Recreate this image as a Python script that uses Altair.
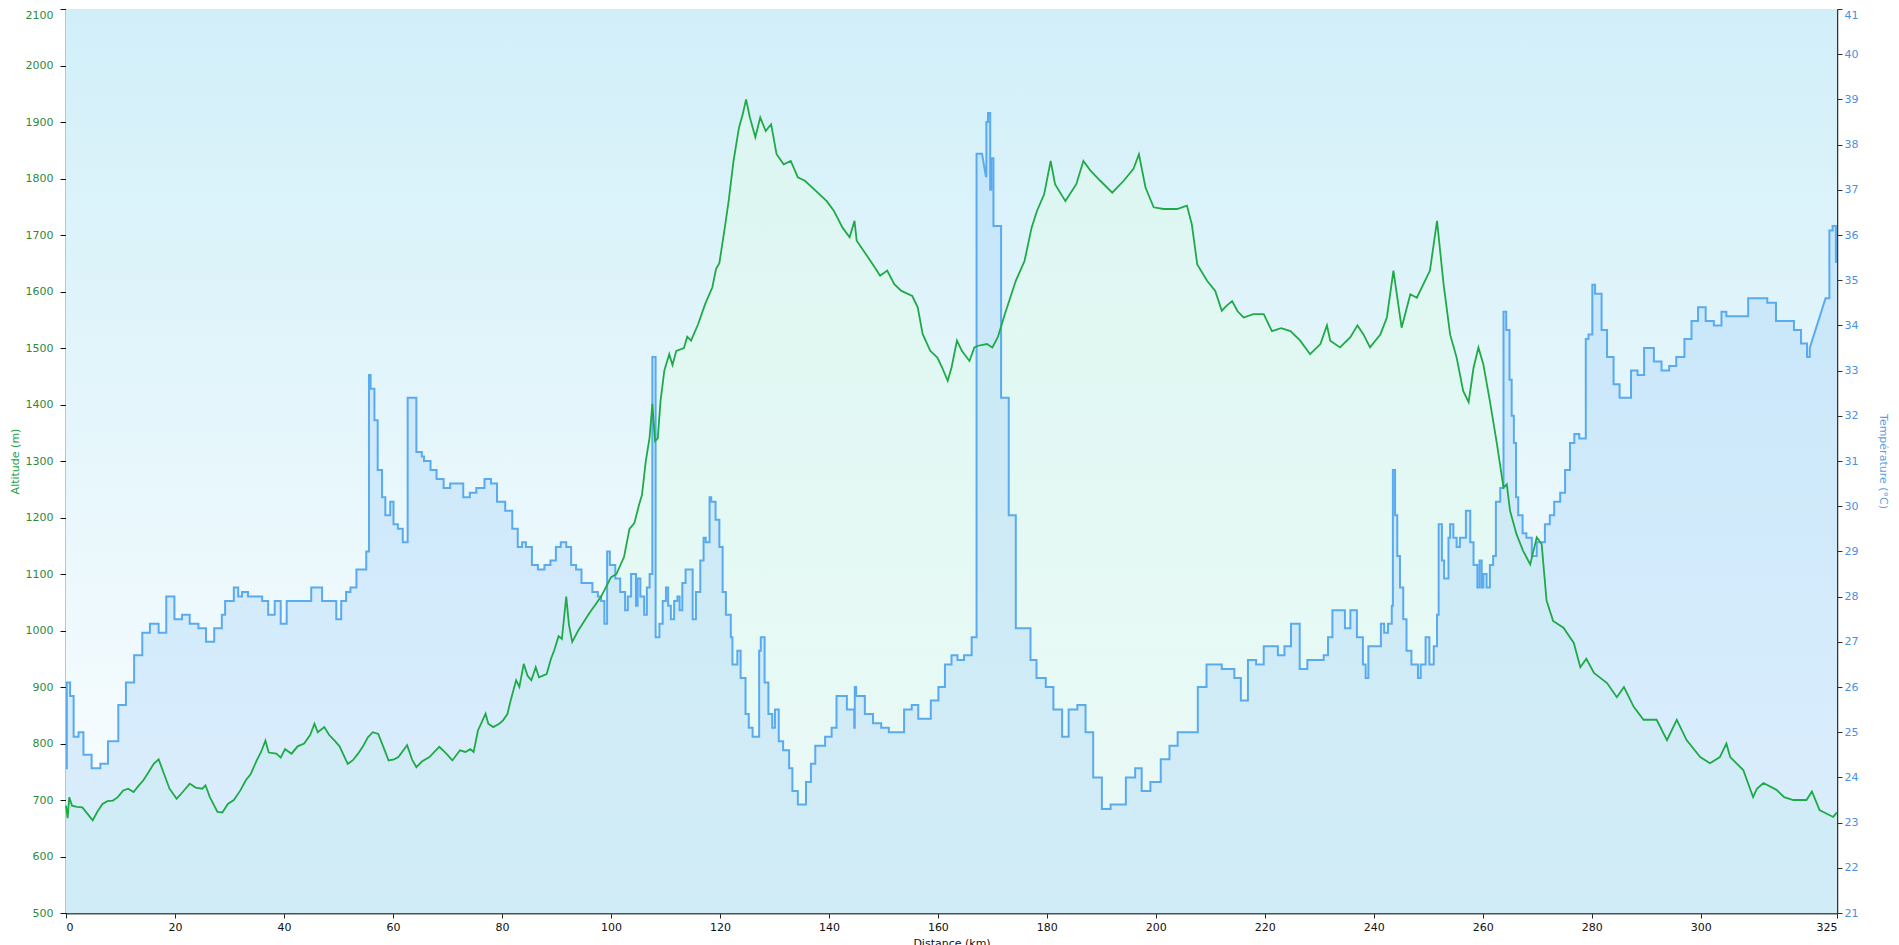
import altair as alt
import pandas as pd

# ---------------- data ----------------
alt_km = [0, 0.3, 0.6, 1.1, 2, 3, 4, 4.9, 5.8, 6.7, 7.6, 8.6, 9.5, 10.5, 11.4, 12.4, 13.3, 14.2,
          15.2, 16.1, 17, 18, 19, 20.3, 21.5, 22.7, 23.8, 25, 25.6, 26.4, 27.2, 27.8, 28.7, 29.7,
          30.8, 32, 33, 33.9, 35, 35.8, 36.6, 37.2, 38.6, 39.4, 40.2, 41.4, 42.5, 43.7, 44.8, 45.6,
          46.2, 47.4, 48.3, 49.3, 50.2, 51.7, 52.6, 53.6, 54.5, 55.4, 56.3, 57.3, 58.4, 59.2, 60.2,
          61, 62.6, 63.5, 64.3, 65.3, 66.7, 67.6, 68.5, 69.8, 70.9, 72.3, 73.3, 74.2, 74.8, 75.6,
          77, 77.5, 78.4, 79.5, 80.2, 81, 81.6, 82.6, 83.2, 84, 84.7, 85.4, 86.2, 86.8, 88.2, 89,
          89.6, 90.4, 91, 91.8, 92.3, 92.9, 94, 94.8, 96, 97.1, 98.2, 99, 100, 101, 102.4, 103.4,
          104.3, 105.2, 105.7, 106.4, 107.1, 107.6, 108.1, 108.6, 109.1, 109.8, 110.7, 111.3, 112,
          113.4, 114, 114.7, 116, 117.3, 118.6, 119.3, 119.9, 120.9, 121.6, 122.5, 123.5, 124.2,
          124.8, 125.5, 126.5, 127.4, 128.4, 129.4, 130.4, 131.7, 133, 134.3, 135.6, 137.6, 139.6,
          140.9, 142.5, 143.8, 144.7, 145.1, 146.8, 148.4, 149.4, 150.7, 152, 153.3, 155.3, 156.3,
          157.2, 158.6, 159.9, 160.8, 161.8, 162.5, 163.5, 164.4, 165.8, 166.7, 167.4, 169, 170,
          171, 172.3, 174.3, 175.9, 177.2, 178.2, 179.5, 180.7, 181.5, 183.4, 185.4, 186.7, 188,
          189.8, 192, 194.1, 195.9, 196.9, 198.1, 199.6, 201.4, 203.9, 205.7, 206.6, 207.6, 209.4,
          210.9, 212.1, 213, 214, 215, 216.1, 217.9, 219.8, 221.3, 223, 224.7, 226.5, 228.3, 230.2,
          231.4, 232, 233.8, 235.7, 237, 238.1, 239.3, 241.2, 242.4, 243.6, 245.1, 246.7, 247.9,
          249.1, 250.3, 251.6, 252.8, 254, 255.2, 256.4, 257.4, 258.3, 259.2, 260.1, 261.3, 262.6,
          263.8, 264.4, 265, 266.2, 267.4, 268.7, 269.9, 270.8, 271.7, 272.9, 274.8, 276.7, 277.9,
          279, 280.4, 282.8, 284.6, 285.9, 287.7, 289.5, 291.9, 293.8, 295.6, 297.4, 299.9, 301.7,
          303.5, 304.7, 305.4, 307.8, 309.6, 310.3, 311.5, 313.9, 315.3, 317, 319.4, 320.4, 321.8,
          324.3, 325]
alt_m = [690, 668, 705, 690, 688, 687, 675, 664, 680, 693, 698, 699, 705, 717, 720, 714, 725, 735,
         750, 764, 772, 746, 720, 702, 715, 729, 722, 720, 726, 705, 690, 679, 678, 693,
         700, 717, 735, 746, 770, 785, 805, 784, 782, 775, 790, 782, 795, 800, 815, 835,
         820, 829, 815, 805, 795, 764, 770, 782, 795, 811, 820, 817, 790, 770, 772,
         776, 797, 772, 758, 768, 776, 785, 794, 782, 770, 788, 785, 790, 785, 823,
         853, 835, 829, 835, 841, 852, 876, 912, 900, 941, 920, 912, 935, 917, 923, 950,
         965, 990, 985, 1060, 1010, 980, 1000, 1012, 1030, 1045, 1060, 1075, 1094, 1100, 1130, 1180,
         1190, 1224, 1240, 1300, 1342, 1401, 1335, 1340, 1406, 1460, 1489, 1470, 1495,
         1500, 1520, 1513, 1542, 1578, 1607, 1640, 1650, 1713, 1760, 1831, 1890, 1914,
         1940, 1908, 1873, 1908, 1884, 1896, 1843, 1825, 1831, 1802, 1796, 1778, 1760,
         1743, 1713, 1696, 1725, 1690, 1666, 1643, 1628, 1637, 1613, 1601, 1592, 1572,
         1525, 1495, 1483, 1465, 1442, 1465, 1513, 1495, 1477, 1501, 1504, 1507, 1501,
         1519, 1560, 1619, 1654, 1713, 1743, 1772, 1831, 1790, 1760, 1790, 1831, 1814,
         1796, 1775, 1796, 1817, 1843, 1784, 1749, 1746, 1746, 1752, 1719, 1648, 1619,
         1601, 1566, 1575, 1583, 1565, 1554, 1560, 1560, 1530, 1535, 1530, 1513, 1489, 1507,
         1540, 1513, 1501, 1519, 1540, 1524, 1501, 1524, 1554, 1637, 1536, 1595, 1589,
         1613, 1637, 1725, 1613, 1524, 1483, 1424, 1404, 1465, 1501, 1471, 1406, 1330,
         1253, 1259, 1212, 1170, 1141, 1117, 1165, 1153, 1053, 1017, 1005, 978, 935,
         950, 925, 907, 882, 900, 865, 842, 842, 806, 842, 806, 776, 765,
         776, 800, 776, 753, 705, 720, 730, 718, 705, 700, 700, 715, 682,
         670, 678]

# temperature: value held from each start distance to the next (ramps join linearly)
temp_km = [0, 0.15, 0.75, 1.4, 2.3, 3.2, 4.7, 6.3, 7.7, 9.6, 11.0, 12.5, 14.0, 15.4, 17.0, 18.4,
           19.9, 21.3, 22.7, 24.3, 25.7, 27.2, 28.6, 29.2, 30.8, 31.6, 32.3, 33.4, 36.0, 37.1, 38.3,
           39.4, 40.5, 45.0, 47.0, 49.6, 50.5, 51.4, 52.2, 53.3, 55.1, 55.6, 55.9, 56.6, 57.2, 58.0,
           58.6, 59.5, 60.1, 60.9, 61.8, 62.7, 64.3, 65.3, 65.7, 66.9, 68.0, 69.3, 70.5, 72.9, 74.1,
           75.3, 76.8, 78.0, 79.1, 80.6, 81.9, 82.9, 83.7, 84.4, 85.5, 86.6, 87.8, 88.9, 89.9, 90.8,
           91.8, 92.7, 93.6, 94.6, 96.6, 97.6, 98.2, 98.8, 99.3, 99.8, 100.8, 101.7, 102.6, 103.1,
           103.7, 104.6, 104.9, 105.4, 106.1, 106.6, 107.1, 107.6, 108.2, 108.9, 109.5, 110.1,
           110.5, 111.0, 111.6, 112.2, 112.6, 113.1, 113.7, 115.0, 115.6, 116.4, 117.0, 117.4,
           118.1, 118.4, 119.2, 119.9, 120.5, 121.1, 122.0, 122.3, 123.2, 123.8, 124.7, 125.3,
           126.0, 127.2, 127.5, 128.2, 128.9, 129.6, 130.1, 130.8, 131.6, 132.7, 133.3, 134.3,
           135.8, 136.7, 137.5, 139.3, 140.5, 141.4, 143.3, 144.65, 144.75, 145.0, 146.6, 148.1,
           149.6, 151.0, 153.8, 155.2, 156.4, 158.7, 160.1, 161.3, 162.5, 163.6, 164.8, 166.2,
           167.1, 168.1, 168.8, 168.9, 169.2, 169.6, 169.8, 170.2, 171.6, 173.0, 174.3, 177.0,
           178.1, 179.8, 181.2, 182.8, 184.0, 185.6, 187.1, 188.5, 190.1, 191.7, 194.5, 196.2,
           197.4, 199.0, 200.9, 202.5, 204.0, 207.7, 209.3, 212.1, 214.4, 215.6, 216.9, 218.4,
           219.8, 222.4, 223.6, 224.8, 226.4, 227.8, 230.8, 231.6, 232.4, 234.7, 235.7, 236.9,
           238.0, 238.5, 239.0, 241.3, 241.9, 242.6, 243.3, 243.5, 243.9, 244.3, 244.8, 245.4,
           246.0, 246.9, 248.1, 248.6, 249.5, 250.2, 251.0, 251.6, 251.9, 252.5, 252.9, 253.7,
           254.0, 254.6, 255.2, 255.8, 256.9, 257.7, 258.3, 259.0, 259.4, 259.8, 260.1, 260.7,
           261.3, 261.9, 262.4, 263.2, 263.8, 264.3, 264.9, 265.3, 265.7, 266.1, 266.5, 267.3,
           268.0, 269.0, 269.9, 271.4, 272.3, 273.1, 274.2, 275.1, 276.0, 276.8, 277.7, 278.9,
           279.4, 280.1, 280.6, 281.8, 282.8, 284.0, 285.1, 287.2, 288.4, 289.6, 291.4, 292.8,
           294.2, 295.5, 297.0, 298.3, 299.5, 300.9, 302.4, 303.8, 304.7, 308.7, 312.2, 313.8,
           317.1, 318.4, 319.5, 320.0, 322.9, 323.6, 324.2, 324.8]
temp_c = [24.2, 26.1, 25.8, 24.9, 25.0, 24.5, 24.2, 24.3, 24.8, 25.6, 26.1, 26.7, 27.2, 27.4, 27.2, 28.0,
          27.5, 27.6, 27.4, 27.3, 27.0, 27.3, 27.6, 27.9, 28.2, 28.0, 28.1, 28.0, 27.9, 27.6, 27.9,
          27.4, 27.9, 28.2, 27.9, 27.5, 27.9, 28.1, 28.2, 28.6, 29.0, 32.9, 32.6, 31.9, 30.8, 30.2,
          29.8, 30.1, 29.6, 29.5, 29.2, 32.4, 31.2, 31.1, 31.0, 30.8, 30.6, 30.4, 30.5, 30.2, 30.3,
          30.4, 30.6, 30.5, 30.1, 29.9, 29.5, 29.1, 29.2, 29.1, 28.7, 28.6, 28.7, 28.8, 29.1, 29.2,
          29.1, 28.7, 28.6, 28.3, 28.1, 28.0, 27.9, 27.4, 29.0, 28.7, 28.4, 28.1, 27.7, 28.0,
          28.5, 27.8, 28.4, 28.0, 27.6, 28.2, 28.5, 33.3, 27.1, 27.4, 27.9, 28.2,
          27.8, 27.5, 27.9, 28.0, 27.7, 28.3, 28.6, 27.5, 28.1, 28.8, 29.3, 29.2,
          30.2, 30.1, 29.7, 29.1, 28.1, 27.6, 27.1, 26.5, 26.8, 26.2, 25.4, 25.1,
          24.9, 26.8, 27.1, 26.1, 25.4, 25.1, 25.5, 24.8, 24.6, 24.2, 23.7, 23.4,
          23.9, 24.3, 24.7, 24.9, 25.1, 25.8, 25.5, 25.1, 26.0, 25.8, 25.4, 25.2,
          25.1, 25.0, 25.5, 25.6, 25.3, 25.7, 26.0, 26.5, 26.7, 26.6, 26.7, 27.1,
          37.8, 37.8, 37.3, 38.5, 38.7, 37.0, 37.7, 36.2, 32.4, 29.8, 27.3, 26.6,
          26.2, 26.0, 25.5, 24.9, 25.5, 25.6, 25.0, 24.0, 23.3, 23.4, 24.0, 24.2,
          23.7, 23.9, 24.4, 24.7, 25.0, 26.0, 26.5, 26.4, 26.2, 25.7, 26.6, 26.5,
          26.9, 26.7, 26.9, 27.4, 26.4, 26.6, 26.7, 27.1, 27.7, 27.3, 27.7, 27.1,
          26.5, 26.2, 26.9, 27.4, 27.2, 27.4, 27.8, 30.8, 29.8, 28.9, 28.2, 27.5,
          26.8, 26.5, 26.2, 26.5, 27.1, 26.5, 26.9, 27.6, 29.6, 28.8, 28.4, 29.3,
          29.6, 29.3, 29.1, 29.3, 29.9, 29.2, 28.7, 28.2, 28.8, 28.2, 28.5, 28.2,
          28.7, 28.9, 30.1, 30.4, 34.3, 33.9, 32.8, 32.0, 31.4, 30.2, 29.8, 29.4,
          29.3, 28.9, 29.2, 29.6, 29.8, 30.1, 30.3, 30.8, 31.4, 31.6, 31.5, 33.7,
          33.8, 34.9, 34.7, 33.9, 33.3, 32.7, 32.4, 33.0, 32.9, 33.5, 33.2, 33.0,
          33.1, 33.3, 33.7, 34.1, 34.4, 34.1, 34.0, 34.3, 34.2, 34.6, 34.5, 34.1,
          33.9, 33.6, 33.3, 33.5, 34.6, 36.1, 36.2, 35.4]
temp_ramps = [168.1, 320.0]   # segments that slope to the next reading instead of stepping
x_end = 325

x_ticks = [0, 20, 40, 60, 80, 100, 120, 140, 160, 180, 200, 220, 240, 260, 280, 300, 325]
alt_ticks = list(range(500, 2101, 100))
temp_ticks = list(range(21, 42))

# ---------------- build tables ----------------
W, H = 1771, 904
FONT = "DejaVu Sans"

alt_df = pd.DataFrame({"km": alt_km, "alt": alt_m})

rows = []
for i, (k, c) in enumerate(zip(temp_km, temp_c)):
    nxt = temp_km[i + 1] if i + 1 < len(temp_km) else x_end
    rows.append((k, c))
    if k not in temp_ramps:
        rows.append((nxt, c))
temp_df = pd.DataFrame(rows, columns=["km", "t"])
temp_df["i"] = range(len(temp_df))

x_axis = alt.Axis(values=x_ticks, grid=False, labelFlush=True, labelOverlap=False,
                  tickSize=5, tickColor="#222", domainColor="#505050", domainWidth=2,
                  labelColor="#111", labelFontSize=11, labelPadding=3,
                  title="Distance (km)", titleFontSize=11, titleFontWeight="normal",
                  titleColor="#111", titlePadding=5)
x_enc = alt.X("km:Q", scale=alt.Scale(domain=[0, x_end], nice=False, zero=False), axis=x_axis)

alt_scale = alt.Scale(domain=[500, 2100], nice=False, zero=False)
temp_scale = alt.Scale(domain=[21, 41], nice=False, zero=False)

top_alt = {"condition": {"test": "datum.value >= 2100", "value": "top"}, "value": "middle"}
top_temp = {"condition": {"test": "datum.value >= 41", "value": "top"}, "value": "middle"}

bg = alt.Chart(pd.DataFrame({"a": [0]})).mark_rect(
    fill=alt.Gradient(gradient="linear", x1=0, x2=0, y1=0, y2=1,
                      stops=[alt.GradientStop(color="#d2eff9", offset=0),
                             alt.GradientStop(color="#e4f6fb", offset=0.45),
                             alt.GradientStop(color="#f4fbfe", offset=0.8),
                             alt.GradientStop(color="#f8fdff", offset=1)])
).encode(x=alt.value(0), x2=alt.value(W), y=alt.value(0), y2=alt.value(H))

green_area = alt.Chart(alt_df).mark_area(
    fill=alt.Gradient(gradient="linear", x1=0, x2=0, y1=0, y2=1,
                      stops=[alt.GradientStop(color="rgba(226,250,236,0.55)", offset=0),
                             alt.GradientStop(color="rgba(222,248,238,0.55)", offset=1)])
).encode(x=x_enc, y=alt.Y("alt:Q", scale=alt_scale, axis=None, stack=None), y2=alt.value(H))

blue_area = alt.Chart(temp_df).mark_area(
    color="#a0d0fa", fillOpacity=0.34
).encode(x=x_enc, y=alt.Y("t:Q", scale=temp_scale, axis=None, stack=None), y2=alt.value(H))

blue_line = alt.Chart(temp_df).mark_line(color="#5aaaf0", strokeWidth=2).encode(
    x=x_enc,
    y=alt.Y("t:Q", scale=temp_scale,
            axis=alt.Axis(orient="right", values=temp_ticks, grid=False, tickSize=5,
                          tickColor="#333", domainColor="#333", domainWidth=1.5,
                          labelColor="#4a90e2", labelFontSize=11, labelPadding=2,
                          labelBaseline=top_temp,
                          title="Température (°C)", titleColor="#5a9ee6", titleFontSize=11,
                          titleFontWeight="normal", titleX=45, titleY=H / 2,
                          titleAngle=90, titleBaseline="middle", titleAlign="center")),
    order=alt.Order("i:Q"))

green_line = alt.Chart(alt_df).mark_line(color="#1faa48", strokeWidth=1.8).encode(
    x=x_enc,
    y=alt.Y("alt:Q", scale=alt_scale,
            axis=alt.Axis(orient="left", values=alt_ticks, format="d", grid=True,
                          gridColor="#a9bec6", gridWidth=1, tickSize=6, tickColor="#111",
                          domainColor="#111", domainWidth=1.5, labelColor="#2b8a3e",
                          labelFontSize=11, labelPadding=7, labelBaseline=top_alt,
                          title="Altitude (m)", titleColor="#22a04a",
                          titleFontSize=11, titleFontWeight="normal", titleX=-51,
                          titleY=H / 2, titleAngle=270, titleBaseline="middle",
                          titleAlign="center")))

chart = alt.layer(bg, green_area, blue_area, blue_line, green_line).resolve_scale(
    y="independent"
).properties(
    width=W, height=H,
    padding={"left": 58, "top": 1, "right": 54, "bottom": 40},
    autosize=alt.AutoSizeParams(type="none"),
).configure_view(stroke="#bdbdbd", strokeWidth=1).configure_axis(
    labelFont=FONT, titleFont=FONT
)

chart.save("out.html", embed_options={"renderer": "svg", "actions": False})
